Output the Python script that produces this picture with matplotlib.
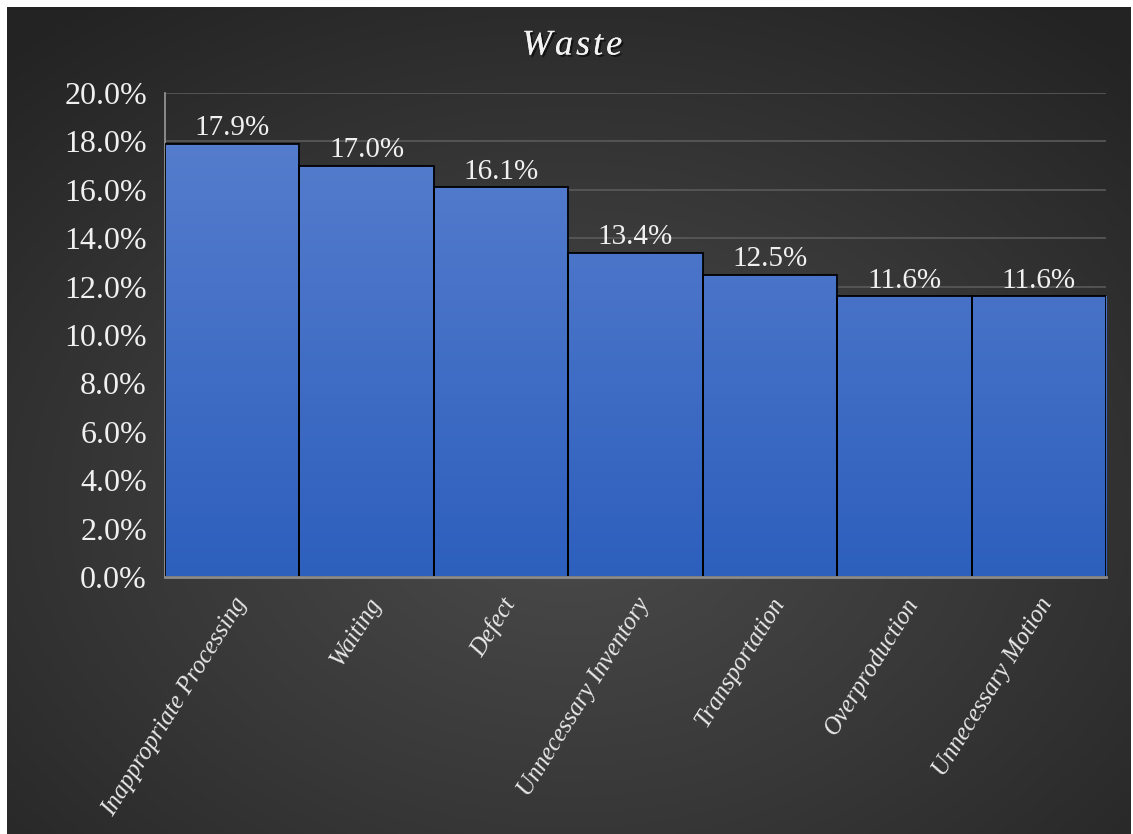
import numpy as np
import matplotlib.pyplot as plt
import matplotlib.patheffects as pe
from matplotlib.colors import LinearSegmentedColormap

# Datos del grafico
categories = ["Inappropriate Processing", "Waiting", "Defect", "Unnecessary Inventory",
              "Transportation", "Overproduction", "Unnecessary Motion"]
values = [17.9, 17.0, 16.1, 13.4, 12.5, 11.6, 11.6]
yticks = [0, 2, 4, 6, 8, 10, 12, 14, 16, 18, 20]

plt.rcParams['font.family'] = ['Liberation Serif', 'DejaVu Serif']

W, H = 1133, 834
fig = plt.figure(figsize=(W / 100, H / 100), dpi=100)
fig.patch.set_facecolor('white')

# Fondo con degradado radial
bg = fig.add_axes([7 / W, 0, 1 - 9 / W, 1 - 7 / H])
bg.set_axis_off()
yy, xx = np.mgrid[0:1:400j, 0:1:500j]
r = np.sqrt(((xx - 0.5) / 0.75) ** 2 + ((yy - 0.6) / 0.75) ** 2)
r = np.clip(r, 0, 1)
bg_cmap = LinearSegmentedColormap.from_list('bg', ['#4b4b4b', '#383838', '#232323'])
bg.imshow(r, cmap=bg_cmap, aspect='auto', extent=[0, 1, 0, 1], origin='upper')
bg.set_xlim(0, 1)
bg.set_ylim(0, 1)

# Eje principal
ax = fig.add_axes([165 / W, 1 - 577 / H, (1106 - 165) / W, (577 - 93) / H])
ax.patch.set_alpha(0)

x = np.arange(len(categories))
bars = ax.bar(x, values, width=1.0, facecolor='none', edgecolor='black', linewidth=1.3, zorder=3)

# Degradado azul dentro de cada barra
bar_cmap = LinearSegmentedColormap.from_list('bar', ['#2d5fbd', '#5a80cf'])
grad = np.linspace(0, 1, 256).reshape(-1, 1)
for b in bars:
    im = ax.imshow(grad, cmap=bar_cmap, aspect='auto', origin='lower',
                   extent=[b.get_x(), b.get_x() + b.get_width(), 0, 20], zorder=2)
    im.set_clip_path(b)

for xi, v in zip(x, values):
    ax.text(xi, v + 0.1, f"{v:.1f}%", ha='center', va='bottom', color='#f0f0f0', fontsize=21, zorder=4)

ax.set_xlim(-0.5, len(categories) - 0.5)
ax.set_ylim(0, 20)
ax.set_yticks(yticks)
ax.set_yticklabels([f"{t:.1f}%" for t in yticks], fontsize=23, color='#f0f0f0')
ax.set_xticks(x)
ax.set_xticklabels(categories, rotation=58, ha='right', rotation_mode='anchor',
                   fontsize=17.8, style='italic', color='#e8e8e8')
ax.tick_params(axis='y', length=0, pad=13)
ax.tick_params(axis='x', length=0, pad=12)

ax.grid(axis='y', color='#5a5a5a', linewidth=1.2, zorder=0)
ax.set_axisbelow(True)
for s in ['top', 'right']:
    ax.spines[s].set_visible(False)
ax.spines['left'].set_color('#9a9a9a')
ax.spines['left'].set_linewidth(1.2)
ax.spines['bottom'].set_color('#8c8c8c')
ax.spines['bottom'].set_linewidth(2)
ax.spines['bottom'].set_zorder(5)

# Titulo con sombra
title = "W\u200aa\u200as\u200at\u200ae"
fig.text(572 / W, 1 - 46 / H, title, ha='center', va='center', fontsize=26,
         style='italic', color='#f2f2f2',
         path_effects=[pe.withSimplePatchShadow(offset=(1.5, -1.5), shadow_rgbFace='black', alpha=0.6),
                       pe.Normal()])

fig.savefig('out.png', dpi=100, facecolor=fig.get_facecolor())
